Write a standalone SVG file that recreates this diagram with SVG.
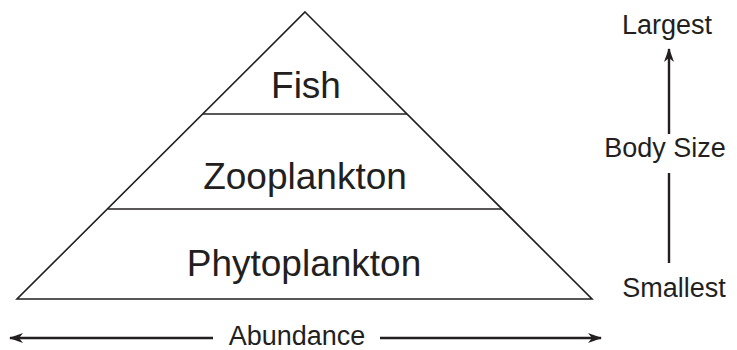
<svg xmlns="http://www.w3.org/2000/svg" width="737" height="350" viewBox="0 0 737 350">
<style>
.edge{fill:none;stroke:#231f20;stroke-width:1.6}
.ax{fill:none;stroke:#231f20;stroke-width:2.4}
.big{font-family:"Liberation Sans",Arial,sans-serif;font-size:37px;fill:#231f20;text-anchor:middle}
.sm{font-family:"Liberation Sans",Arial,sans-serif;font-size:27px;fill:#231f20;text-anchor:middle}
</style>
<defs>
<marker id="ah" viewBox="0 0 14 10" refX="13" refY="5" markerWidth="14" markerHeight="10" markerUnits="userSpaceOnUse" orient="auto-start-reverse">
<path d="M0,0 L14,5 L0,10 L4,5 Z" fill="#231f20"/>
</marker>
</defs>
<rect width="737" height="350" fill="#fff"/>
<g id="pyramid">
<path class="edge" d="M305,12 L592,299 L17,299 Z"/>
</g>
<g id="fish">
<text class="big" x="306" y="98">Fish</text>
</g>
<g id="zooplankton">
<line class="edge" x1="203" y1="114" x2="407" y2="114"/>
<text class="big" x="305" y="189">Zooplankton</text>
</g>
<g id="phytoplankton">
<line class="edge" x1="108" y1="209" x2="502" y2="209"/>
<text class="big" x="304" y="276">Phytoplankton</text>
</g>
<g id="connectors">
<line class="ax" x1="213" y1="338" x2="10" y2="338" marker-end="url(#ah)"/>
<line class="ax" x1="380" y1="338" x2="601" y2="338" marker-end="url(#ah)"/>
<line class="ax" x1="669" y1="134" x2="669" y2="49" marker-end="url(#ah)"/>
<line class="ax" x1="669" y1="173" x2="669" y2="263"/>
</g>
<g id="labels">
<text class="sm" x="297" y="345">Abundance</text>
<text class="sm" x="667" y="34">Largest</text>
<text class="sm" x="665" y="157">Body Size</text>
<text class="sm" x="674" y="297">Smallest</text>
</g>
</svg>
